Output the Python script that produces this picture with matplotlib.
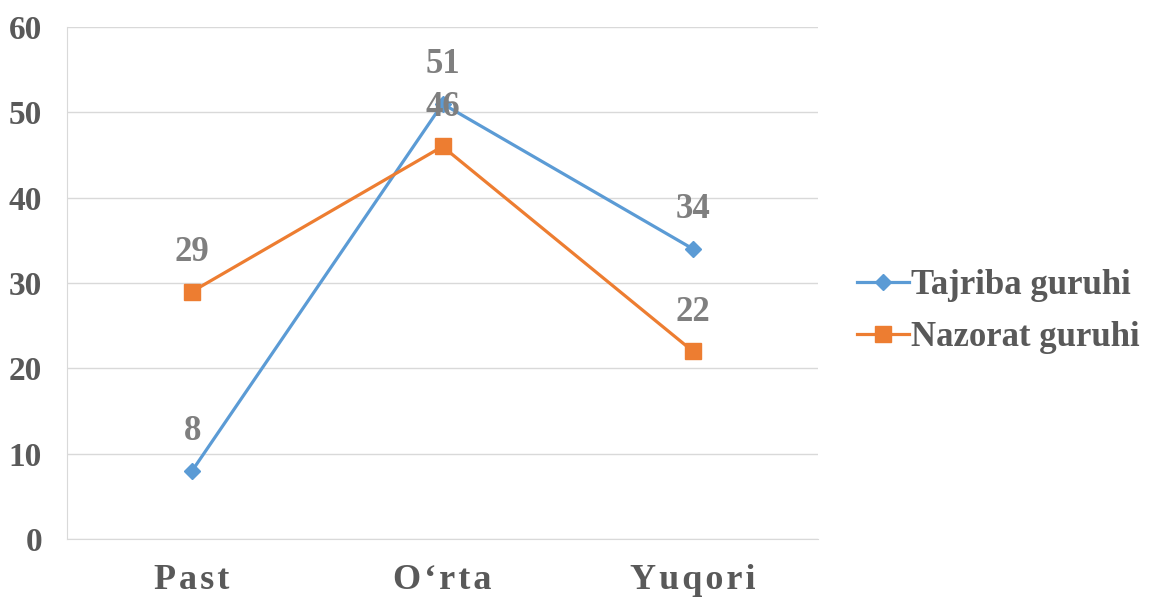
import matplotlib.pyplot as plt

# ----- Data -----
categories = ["Past", "O\u2018rta", "Yuqori"]
tajriba = [8, 51, 34]
nazorat = [29, 46, 22]
series_names = ["Tajriba guruhi", "Nazorat guruhi"]
y_ticks = [0, 10, 20, 30, 40, 50, 60]
# ----------------

BLUE = "#5B9BD5"
ORANGE = "#ED7D31"
TEXT = "#595959"
LABEL = "#7F7F7F"
GRID = "#D9D9D9"

plt.rcParams['font.family'] = ['Liberation Serif', 'DejaVu Serif']
plt.rcParams['font.weight'] = 'bold'

fig = plt.figure(figsize=(11.53, 5.99), dpi=100)
ax = fig.add_axes([0.0581, 0.1002, 0.6514, 0.8547])

x = list(range(len(categories)))
l1, = ax.plot(x, tajriba, color=BLUE, lw=2.3, marker="D", ms=8, label=series_names[0], zorder=3)
l2, = ax.plot(x, nazorat, color=ORANGE, lw=2.3, marker="s", ms=11, label=series_names[1], zorder=3)

for xs, ys in [(x, tajriba), (x, nazorat)]:
    for xi, yi in zip(xs, ys):
        ax.annotate(str(yi), (xi, yi), xytext=(0, 28), textcoords="offset points",
                    ha="center", va="center", fontsize=25, fontweight="bold", color=LABEL, zorder=4)

ax.set_xlim(-0.5, 2.5)
ax.set_ylim(0, 60)
ax.set_yticks(y_ticks)
ax.set_yticklabels([str(t) for t in y_ticks], fontsize=24, fontweight="bold", color=TEXT)
ax.set_xticks(x)
spaced = ["\u200a".join(c) for c in categories]
ax.set_xticklabels(spaced, fontsize=26, fontweight="bold", color=TEXT)
ax.tick_params(axis="both", length=0)
ax.tick_params(axis="y", pad=18)
ax.tick_params(axis="x", pad=18)

ax.grid(axis="y", color=GRID, lw=1)
ax.set_axisbelow(True)
for s in ["top", "right"]:
    ax.spines[s].set_visible(False)
ax.spines["left"].set_color(GRID)
ax.spines["bottom"].set_color(GRID)

fig.legend(handles=[l1, l2], loc="center left", bbox_to_anchor=(0.716, 0.48),
           frameon=False, handlelength=1.5, handletextpad=0.05,
           labelspacing=0.55, labelcolor=TEXT, prop={"weight": "bold", "size": 25})

fig.savefig("out.png", dpi=100)
